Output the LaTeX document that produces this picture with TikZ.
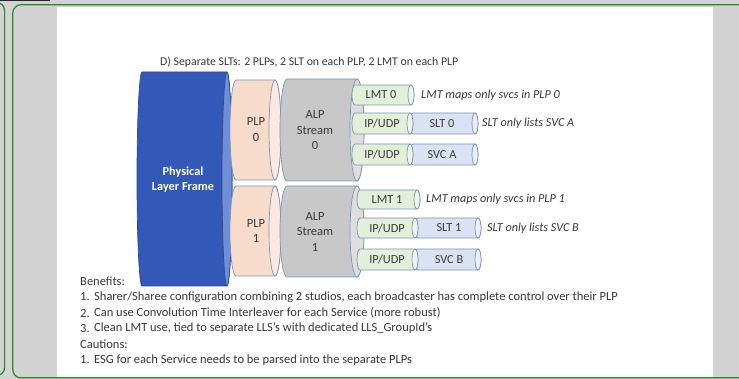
\documentclass[tikz,border=0pt]{standalone}
\usepackage{fontspec}
\setmainfont{Carlito}
\definecolor{bg}{HTML}{D3D3D3}
\definecolor{frame}{HTML}{228B22}
\definecolor{pfbody}{HTML}{3258B8}
\definecolor{pfend}{HTML}{6E8ED6}
\definecolor{pfline}{HTML}{2A4A9A}
\definecolor{plpbody}{HTML}{F8DCCB}
\definecolor{plpend}{HTML}{FBE8DE}
\definecolor{alpbody}{HTML}{C8C8C8}
\definecolor{alpend}{HTML}{DEDEDE}
\definecolor{grnbody}{HTML}{E2EFD9}
\definecolor{grnend}{HTML}{EEF5E8}
\definecolor{blubody}{HTML}{DAE3F3}
\definecolor{bluend}{HTML}{E9EEF8}
\definecolor{cylline}{HTML}{7F94B8}
\definecolor{txt}{HTML}{3A3A3A}
\newcommand\cylbody[8]{%
  \pgfmathsetmacro\cylry{(#4-#2)/2}%
  \pgfmathsetmacro\cylxa{#1+#5}%
  \pgfmathsetmacro\cylxb{#3-#5}%
  \pgfmathsetmacro\cylym{(#2+#4)/2}%
  \filldraw[fill=#6,draw=#8,line width=0.7pt] (\cylxa,#2) -- (\cylxb,#2)
    arc[start angle=90,end angle=-90,x radius=#5pt,y radius=\cylry pt]
    -- (\cylxa,#4)
    arc[start angle=270,end angle=90,x radius=#5pt,y radius=\cylry pt] -- cycle;
  \filldraw[fill=#7,draw=#8,line width=0.7pt] (\cylxb,\cylym) ellipse[x radius=#5pt,y radius=\cylry pt];
}
\tikzset{
  big/.style={text=txt,align=center,inner sep=0pt,font=\fontsize{12.5}{15.5}\selectfont},
  small/.style={text=txt,inner sep=0pt,font=\fontsize{12.3}{13}\selectfont},
  note/.style={text=txt,anchor=west,inner sep=0pt,font=\fontsize{12.2}{13}\selectfont\itshape},
  body/.style={text=txt,anchor=west,inner sep=0pt,font=\fontsize{12.5}{14}\selectfont},
}
\begin{document}
\begin{tikzpicture}[x=1pt,y=-1pt]
\useasboundingbox (0,0) rectangle (739,379);
\fill[bg] (0,0) rectangle (739,379);
\fill[white] (57,7) rectangle (713,376.8);
\fill[black!85] (0,0) rectangle (50,1);
\draw[frame,line width=1.2pt,rounded corners=8pt] (-30,2.5) rectangle (4.6,375.5);
\draw[frame,line width=1.2pt,rounded corners=8pt] (12.8,4.8) rectangle (760,377.8);

% big cylinders
\cylbody{137}{72}{232}{286}{5}{pfbody}{pfend}{pfline}
\cylbody{230}{80}{281}{180}{6}{plpbody}{plpend}{cylline}
\cylbody{230}{186}{281}{276}{6}{plpbody}{plpend}{cylline}
\cylbody{280}{79}{364}{181}{7}{alpbody}{alpend}{cylline}
\cylbody{280}{186}{364}{277}{7}{alpbody}{alpend}{cylline}

% blue small cylinders
\cylbody{410}{113}{478}{134}{3}{blubody}{bluend}{cylline}
\cylbody{410}{144}{478}{165}{3}{blubody}{bluend}{cylline}
\cylbody{415}{218}{481}{238}{3}{blubody}{bluend}{cylline}
\cylbody{415}{249}{481}{270}{3}{blubody}{bluend}{cylline}
% green small cylinders
\cylbody{352}{85}{414}{105}{3}{grnbody}{grnend}{cylline}
\cylbody{352}{113}{413}{134}{3}{grnbody}{grnend}{cylline}
\cylbody{352}{144}{413}{165}{3}{grnbody}{grnend}{cylline}
\cylbody{357}{190}{420}{209}{3}{grnbody}{grnend}{cylline}
\cylbody{357}{218}{418}{238}{3}{grnbody}{grnend}{cylline}
\cylbody{357}{249}{418}{270}{3}{grnbody}{grnend}{cylline}

% texts
\node[body,font=\fontsize{11.8}{13}\selectfont] (title) at (160,62) {D) Separate SLTs: 2 PLPs, 2 SLT on each PLP, 2 LMT on each PLP};
\node[big,text=white,font=\fontsize{12.3}{15}\selectfont\bfseries] (pf) at (183,180) {Physical\\Layer Frame};
\node[big] (plp0) at (256,129.5) {PLP\\0};
\node[big] (plp1) at (256,231) {PLP\\1};
\node[big] (alp0) at (315,130.5) {ALP\\Stream\\0};
\node[big] (alp1) at (315,231.5) {ALP\\Stream\\1};

\node[small] (lmt0) at (381,95) {LMT 0};
\node[small] (ip0) at (382,123.5) {IP/UDP};
\node[small] (slt0) at (442,123.5) {SLT 0};
\node[small] (ipa) at (382,154.5) {IP/UDP};
\node[small] (svca) at (442,154.5) {SVC A};
\node[small] (lmt1) at (387,199.5) {LMT 1};
\node[small] (ip1) at (387,228) {IP/UDP};
\node[small] (slt1) at (449,228) {SLT 1};
\node[small] (ipb) at (387,259.5) {IP/UDP};
\node[small] (svcb) at (449,259.5) {SVC B};

\node[note] (n1) at (421,95) {LMT maps only svcs in PLP 0};
\node[note] (n2) at (482,123.5) {SLT only lists SVC A};
\node[note] (n3) at (426,199.5) {LMT maps only svcs in PLP 1};
\node[note] (n4) at (487,228) {SLT only lists SVC B};

\node[body] (ben) at (80,281) {Benefits:};
\node[body] (b1n) at (80,297) {1.};
\node[body] (b1) at (94,297) {Sharer/Sharee configuration combining 2 studios, each broadcaster has complete control over their PLP};
\node[body] (b2n) at (80,313) {2.};
\node[body] (b2) at (94,313) {Can use Convolution Time Interleaver for each Service (more robust)};
\node[body] (b3n) at (80,328.5) {3.};
\node[body] (b3) at (94,328.5) {Clean LMT use, tied to separate LLS's with dedicated LLS\_GroupId's};
\node[body] (cau) at (80,344) {Cautions:};
\node[body] (c1n) at (80,360) {1.};
\node[body] (c1) at (94,360) {ESG for each Service needs to be parsed into the separate PLPs};
\end{tikzpicture}
\end{document}
